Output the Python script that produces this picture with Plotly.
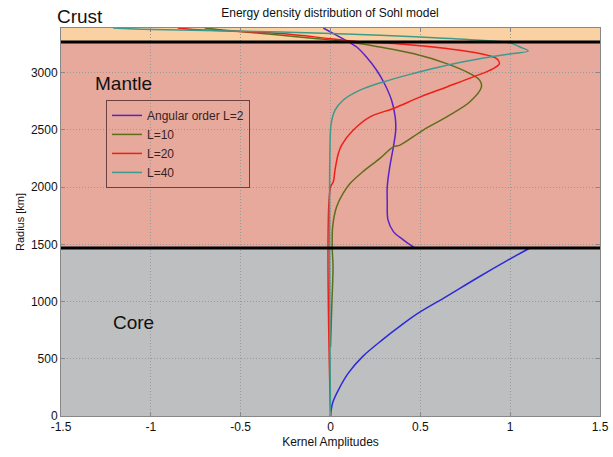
import plotly.graph_objects as go

# ---- data ----
R_TOP, R_CRUST, R_CORE = 3390, 3268, 1468

# L=2 (core part, blue)
l2_core_r = [0, 40, 116, 231, 377, 521, 667, 800, 900, 1030, 1219, 1364, 1468]
l2_core_a = [0, 0.003, 0.012, 0.045, 0.10, 0.18, 0.29, 0.40, 0.49, 0.63, 0.83, 0.99, 1.11]
# L=2 (mantle + crust part)
l2_r = [1468, 1539, 1611, 1713, 1859, 2004, 2178, 2352, 2498, 2614, 2759, 2905, 3021, 3137, 3224, 3268, 3330, 3390]
l2_a = [0.47, 0.405, 0.35, 0.32, 0.316, 0.316, 0.33, 0.35, 0.363, 0.36, 0.34, 0.30, 0.257, 0.20, 0.146, 0.10, 0.03, -0.04]

# L=10
l10_r = [600, 1000, 1300, 1452, 1655, 1829, 1946, 2033, 2134, 2251, 2352, 2367, 2498, 2614, 2745, 2875, 2934, 2992, 3079, 3167, 3224, 3268, 3300, 3330, 3365, 3390]
l10_a = [0.0, 0.008, 0.014, 0.01, 0.012, 0.034, 0.07, 0.11, 0.18, 0.275, 0.35, 0.387, 0.516, 0.647, 0.776, 0.84, 0.83, 0.776, 0.647, 0.46, 0.275, 0.108, -0.1, -0.3, -0.55, -0.7]

# L=20
l20_r = [0, 2000, 2047, 2149, 2295, 2367, 2498, 2614, 2687, 2788, 2875, 2963, 3036, 3079, 3122, 3167, 3210, 3248, 3268, 3297, 3341, 3380, 3390]
l20_a = [0, 0, 0.016, 0.025, 0.044, 0.062, 0.127, 0.22, 0.35, 0.50, 0.647, 0.795, 0.906, 0.94, 0.925, 0.83, 0.647, 0.405, 0.18, 0.0, -0.28, -0.78, -0.85]

# L=40
l40_r = [0, 2498, 2585, 2672, 2759, 2847, 2919, 2992, 3065, 3122, 3167, 3189, 3224, 3259, 3283, 3311, 3326, 3341, 3355, 3376, 3390]
l40_a = [0, 0, 0.007, 0.025, 0.07, 0.164, 0.294, 0.46, 0.647, 0.83, 1.017, 1.10, 1.055, 1.0, 0.83, 0.5, 0.275, 0.0, -0.28, -0.99, -1.21]

x_ticks = [-1.5, -1, -0.5, 0, 0.5, 1, 1.5]
x_tick_text = ["-1.5", "-1", "-0.5", "0", "0.5", "1", "1.5"]
y_ticks = [0, 500, 1000, 1500, 2000, 2500, 3000]

FONT = "Liberation Sans, Arial, sans-serif"
W, H = 613, 457
# plot box in screenshot pixels
SX0, SX1, SY0, SY1 = 61, 600, 28, 416.5
ML, MR, MT, MB = SX0, W - SX1, SY0, H - SY1
PW, PH = W - ML - MR, H - MT - MB


def px(x):
    return (x - SX0) / PW


def py(y):
    return (SY1 - y) / PH


fig = go.Figure()
fig.add_trace(go.Scatter(x=l2_core_a, y=l2_core_r, mode="lines", line=dict(color="#2B2BD6", width=1.5, shape="spline"),
                         showlegend=False, hoverinfo="skip"))
fig.add_trace(go.Scatter(x=l2_a, y=l2_r, mode="lines", name="Angular order L=2",
                         line=dict(color="#5A22C8", width=1.5, shape="spline")))
fig.add_trace(go.Scatter(x=l10_a, y=l10_r, mode="lines", name="L=10",
                         line=dict(color="#5F6E1A", width=1.5, shape="spline")))
fig.add_trace(go.Scatter(x=l20_a, y=l20_r, mode="lines", name="L=20",
                         line=dict(color="#F01E18", width=1.5, shape="spline")))
fig.add_trace(go.Scatter(x=l40_a, y=l40_r, mode="lines", name="L=40",
                         line=dict(color="#3E9A8C", width=1.5, shape="spline")))

shapes = [
    dict(type="rect", xref="paper", x0=0, x1=1, yref="y", y0=R_CRUST, y1=R_TOP,
         fillcolor="#F9D1A2", line_width=0, layer="below"),
    dict(type="rect", xref="paper", x0=0, x1=1, yref="y", y0=R_CORE, y1=R_CRUST,
         fillcolor="#E7A99B", line_width=0, layer="below"),
    dict(type="rect", xref="paper", x0=0, x1=1, yref="y", y0=0, y1=R_CORE,
         fillcolor="#BEBFC1", line_width=0, layer="below"),
    dict(type="line", xref="paper", x0=0, x1=1, yref="y", y0=R_CRUST, y1=R_CRUST,
         line=dict(color="black", width=3), layer="above"),
    dict(type="line", xref="paper", x0=0, x1=1, yref="y", y0=R_CORE, y1=R_CORE,
         line=dict(color="black", width=3), layer="above"),
]

annotations = [
    dict(text="Crust", xref="paper", yref="paper", x=px(80), y=py(16.5),
         showarrow=False, font=dict(size=19, color="#111", family=FONT), xanchor="center", yanchor="middle"),
    dict(text="Mantle", xref="paper", yref="paper", x=px(123), y=py(84),
         showarrow=False, font=dict(size=19, color="#111", family=FONT), xanchor="center", yanchor="middle"),
    dict(text="Core", xref="paper", yref="paper", x=px(133), y=py(323),
         showarrow=False, font=dict(size=19, color="#111", family=FONT), xanchor="center", yanchor="middle"),
]

fig.update_layout(
    width=W, height=H,
    margin=dict(l=ML, r=MR, t=MT, b=MB, autoexpand=False),
    paper_bgcolor="white", plot_bgcolor="white",
    font=dict(family=FONT, size=12, color="#111"),
    title=dict(text="Energy density distribution of Sohl model", x=330 / W, xanchor="center",
               y=1 - 13 / H, yanchor="middle", yref="container", font=dict(size=12, color="#111")),
    shapes=shapes, annotations=annotations,
    showlegend=True,
    legend=dict(x=px(106), y=py(100), xanchor="left", yanchor="top",
                bgcolor="rgba(0,0,0,0)", bordercolor="#6b4040", borderwidth=1,
                font=dict(size=12, color="#3a1f1f", family=FONT), tracegroupgap=0,
                itemwidth=30),
    xaxis=dict(range=[-1.5, 1.5], tickvals=x_ticks, ticktext=x_tick_text, showgrid=True,
               gridcolor="#999999", griddash="1px,2px", gridwidth=1, zeroline=False, automargin=False,
               showline=True, linecolor="#888", mirror="ticks", ticks="inside", ticklen=4,
               tickcolor="#888", title=dict(text="Kernel Amplitudes", standoff=4, font=dict(size=12)),
               tickfont=dict(size=12)),
    yaxis=dict(range=[0, R_TOP], tickvals=y_ticks, showgrid=True,
               gridcolor="#999999", griddash="1px,2px", gridwidth=1, zeroline=False, automargin=False,
               showline=True, linecolor="#888", mirror="ticks", ticks="inside", ticklen=4,
               tickcolor="#888", title=dict(text="Radius [km]", standoff=4, font=dict(size=11)),
               tickfont=dict(size=12)),
)

fig.write_html("out.html", config={"displayModeBar": False},
               post_script="document.body.style.margin='0';")
